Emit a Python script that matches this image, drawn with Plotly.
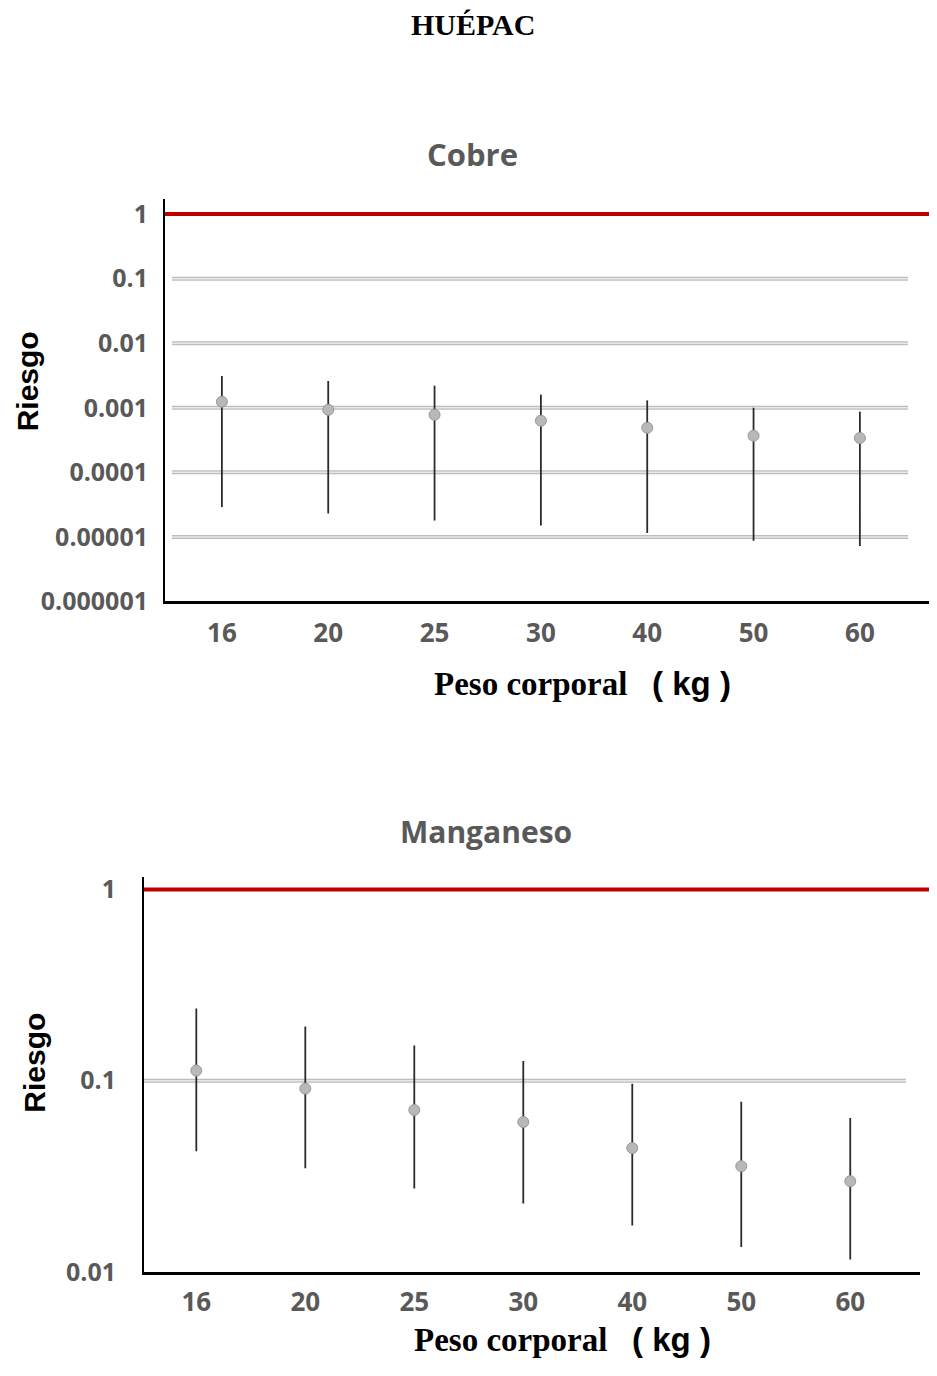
import plotly.graph_objects as go

# Peso corporal (kg) categories
pesos = ["16", "20", "25", "30", "40", "50", "60"]

# Cobre: mean risk and interval limits
cobre_riesgo = [0.00124, 0.00093, 0.00078, 0.00063, 0.00049, 0.00037, 0.00034]
cobre_sup = [0.0031, 0.0026, 0.0022, 0.0016, 0.0013, 0.0010, 0.00087]
cobre_inf = [2.9e-5, 2.3e-5, 1.8e-5, 1.5e-5, 1.15e-5, 8.7e-6, 7.2e-6]

# Manganeso: mean risk and interval limits
mn_riesgo = [0.113, 0.091, 0.0703, 0.0608, 0.0444, 0.0357, 0.0298]
mn_sup = [0.239, 0.192, 0.153, 0.127, 0.0964, 0.0776, 0.0638]
mn_inf = [0.0428, 0.0348, 0.0273, 0.0228, 0.0175, 0.0135, 0.0116]

# tick labels
cobre_ticks = [1e-6, 1e-5, 1e-4, 1e-3, 1e-2, 1e-1, 1]
cobre_ticktext = ["0.000001", "0.00001", "0.0001", "0.001", "0.01", "0.1", "1"]
mn_ticks = [0.01, 0.1, 1]
mn_ticktext = ["0.01", "0.1", "1"]

# page body has an 8px margin, so the figure is 16px smaller than the window
W, H = 921, 1360
OFF = 8
GRAY_TXT = "#595959"
TICKFONT = dict(family="Open Sans", size=25, color=GRAY_TXT, weight="bold")
XTICKFONT = dict(family="Open Sans", size=26, color=GRAY_TXT, weight="bold")


def px_x(p):
    return (p - OFF) / W


def px_y(p):
    # the captured page comes out slightly squeezed vertically
    return 1 - ((p - 6) / 0.984 - OFF) / H


fig = go.Figure()
xs = list(range(len(pesos)))


def add_series(riesgo, sup, inf, xa, ya):
    fig.add_trace(go.Scatter(
        x=xs, y=riesgo, mode="markers", xaxis=xa, yaxis=ya, showlegend=False,
        marker=dict(size=11, color="#b8b8b8", line=dict(width=1, color="#999999")),
        error_y=dict(
            type="data", symmetric=False,
            array=[s - r for s, r in zip(sup, riesgo)],
            arrayminus=[r - i for r, i in zip(riesgo, inf)],
            color="#2b2b2b", thickness=1.8, width=0,
        ),
    ))


add_series(cobre_riesgo, cobre_sup, cobre_inf, "x", "y")
add_series(mn_riesgo, mn_sup, mn_inf, "x2", "y2")

axis_common = dict(showgrid=False, zeroline=False, showline=True, linecolor="black")

fig.update_layout(
    width=W, height=H,
    margin=dict(l=0, r=0, t=0, b=0),
    plot_bgcolor="white", paper_bgcolor="white",
    xaxis=dict(**axis_common, domain=[px_x(165), 1], range=[-0.535, 6.65],
               tickvals=xs, ticktext=pesos, linewidth=3, anchor="y",
               tickfont=XTICKFONT, ticks="", ticklabelstandoff=6),
    yaxis=dict(**axis_common, type="log", domain=[px_y(602), px_y(200)], range=[-6, 0.23],
               tickvals=cobre_ticks, ticktext=cobre_ticktext, linewidth=2, anchor="x",
               tickfont=TICKFONT, ticks="", ticklabelstandoff=10),
    xaxis2=dict(**axis_common, domain=[px_x(144), px_x(920)], range=[-0.48, 6.64],
                tickvals=xs, ticktext=pesos, linewidth=3, anchor="y2",
                tickfont=XTICKFONT, ticks="", ticklabelstandoff=5),
    yaxis2=dict(**axis_common, type="log", domain=[px_y(1272), px_y(877)], range=[-2, 0.068],
                tickvals=mn_ticks, ticktext=mn_ticktext, linewidth=2, anchor="x2",
                tickfont=TICKFONT, ticks="", ticklabelstandoff=21),
)

# gridlines (double-edged look) and red reference line at risk = 1
for v in cobre_ticks[1:-1]:
    for w, c in [(4, "#bdbdbd"), (1.5, "#e8e8e8")]:
        fig.add_shape(type="line", xref="paper", yref="y", x0=px_x(172), x1=px_x(908),
                      y0=v, y1=v, line=dict(color=c, width=w), layer="below")
for w, c in [(4, "#bdbdbd"), (1.5, "#e8e8e8")]:
    fig.add_shape(type="line", xref="paper", yref="y2", x0=px_x(144), x1=px_x(906),
                  y0=0.1, y1=0.1, line=dict(color=c, width=w), layer="below")

fig.add_shape(type="line", xref="paper", yref="y", x0=px_x(165), x1=1, y0=1, y1=1,
              line=dict(color="#c00000", width=4))
fig.add_shape(type="line", xref="paper", yref="y2", x0=px_x(144), x1=1, y0=1, y1=1,
              line=dict(color="#c00000", width=4))

titulo_x = ("Peso corporal&nbsp;&nbsp;&nbsp;<span style='font-family:Liberation Sans'>"
            "( kg )</span>")
annots = [
    dict(text="<b>HUÉPAC</b>", x=px_x(473), y=px_y(25),
         font=dict(family="Liberation Serif", size=30, color="black")),
    dict(text="<b>Cobre</b>", x=px_x(472), y=px_y(155),
         font=dict(family="Open Sans", size=31, color=GRAY_TXT)),
    dict(text="<b>Manganeso</b>", x=px_x(486), y=px_y(832),
         font=dict(family="Open Sans", size=30, color=GRAY_TXT)),
    dict(text="<b>Riesgo</b>", x=px_x(27), y=px_y(382), textangle=-90,
         font=dict(family="Liberation Sans", size=30, color="black")),
    dict(text="<b>Riesgo</b>", x=px_x(35), y=px_y(1063), textangle=-90,
         font=dict(family="Liberation Sans", size=30, color="black")),
    dict(text="<b>" + titulo_x + "</b>", x=px_x(582), y=px_y(684),
         font=dict(family="Liberation Serif", size=33, color="black")),
    dict(text="<b>" + titulo_x + "</b>", x=px_x(562), y=px_y(1340),
         font=dict(family="Liberation Serif", size=33, color="black")),
]
for a in annots:
    fig.add_annotation(xref="paper", yref="paper", xanchor="center", yanchor="middle",
                       showarrow=False, **a)

fig.write_html("out.html")
